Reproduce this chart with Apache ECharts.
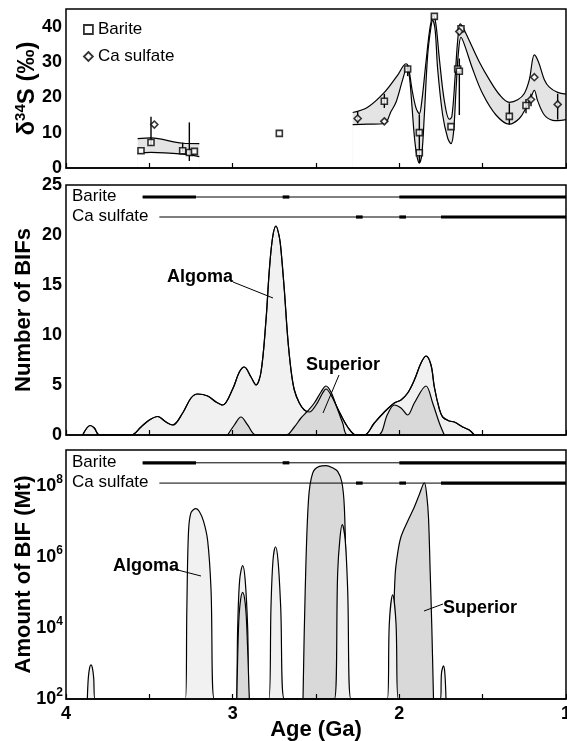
<!DOCTYPE html>
<html>
<head>
<meta charset="utf-8">
<script src="https://cdn.jsdelivr.net/npm/echarts@6/dist/echarts.min.js"></script>
<style>
html,body{margin:0;padding:0;background:#fff;}
#chart{width:567px;height:741px;}
</style>
</head>
<body>
<div id="chart"></div>
<script>
// --- top panel: d34S of sulfate (permil) ---
const bariteAge = [3.55, 3.49, 3.30, 3.26, 3.23, 2.72, 2.09, 1.95, 1.88, 1.88, 1.79, 1.69, 1.65, 1.64, 1.63, 1.34, 1.24];
const bariteD34S = [4.9, 7.2, 4.9, 4.4, 4.7, 9.8, 18.9, 28.0, 10.0, 4.3, 42.9, 11.7, 28.0, 27.4, 39.4, 14.6, 17.7];
const caAge = [3.47, 2.25, 2.09, 1.64, 1.21, 1.19, 1.05];
const caD34S = [12.3, 14.0, 13.2, 38.6, 19.4, 25.7, 18.0];
// [age, low, high]
const errBars = [[3.49,6.3,14.5],[3.30,4.5,7.2],[3.26,2.0,12.9],[2.25,12.6,16.0],[2.09,17.0,21.0],[1.95,26.0,29.0],
  [1.88,1.4,15.2],[1.64,15.0,31.0],[1.34,12.3,18.3],[1.24,15.5,19.5],[1.21,17.5,21.0],[1.05,13.7,21.0]];
// envelope (upper / lower bounds)
const envLeftUp = [[3.57,8.3],[3.49,8.5],[3.30,7.0],[3.20,6.9]];
const envLeftLo = [[3.57,4.2],[3.49,4.4],[3.30,3.9],[3.20,3.2]];
const envRightUp = [[2.28,15.7],[2.19,17.2],[2.09,21.4],[2.01,26.3],[1.96,29.5],[1.945,28.5],[1.925,22.5],[1.90,17],[1.88,15.4],
  [1.865,19],[1.84,30],[1.815,40],[1.795,43.2],[1.78,40.5],[1.76,31],[1.73,19],[1.70,13.8],[1.685,14.5],[1.665,26],[1.65,36],
  [1.635,40.8],[1.615,39.5],[1.58,36],[1.52,30],[1.46,25],[1.40,20.8],[1.34,18.6],[1.29,19.3],[1.25,21.1],[1.22,25],[1.19,32],
  [1.165,30],[1.13,25],[1.10,22.9],[1.05,21.4],[1.00,20.9]];
const envRightLo = [[2.28,12.3],[2.19,12.4],[2.09,12.6],[2.05,16],[2.02,18.6],[1.98,25],[1.955,28.3],[1.94,26],[1.925,18],
  [1.91,9],[1.895,3.5],[1.88,1.4],[1.865,4],[1.85,15],[1.83,32],[1.81,40],[1.80,41.8],[1.785,39],[1.77,28],[1.74,15],[1.71,8.5],
  [1.69,6.9],[1.675,10],[1.66,22],[1.645,33],[1.63,37],[1.61,35],[1.56,28],[1.50,21],[1.42,15],[1.34,12.4],[1.28,14],[1.24,17],
  [1.21,20],[1.19,22],[1.17,19],[1.13,15],[1.08,13.5],[1.05,13.4],[1.00,13.7]];

// --- middle panel: number of BIFs ---
const algomaNum = [[3.90,0],[3.875,0.7],[3.855,0.95],[3.83,0.7],[3.80,0],[3.61,0],[3.55,0.8],[3.50,1.5],[3.45,1.85],[3.40,1.3],
  [3.36,1.0],[3.30,2.2],[3.25,3.7],[3.21,4.1],[3.15,3.9],[3.10,3.3],[3.06,3.0],[3.00,4.6],[2.96,6.3],[2.93,6.8],[2.89,5.8],
  [2.86,5.0],[2.83,6.3],[2.80,11.5],[2.78,16.5],[2.76,19.8],[2.74,20.9],[2.72,19.8],[2.71,18.5],[2.69,14.5],[2.67,9.8],[2.65,6.5],
  [2.63,4.5],[2.60,3.2],[2.57,2.5],[2.54,2.3],[2.50,3.0],[2.46,4.2],[2.44,4.6],[2.41,4.0],[2.36,2.3],[2.31,0.8],[2.26,0],
  [2.21,0],[2.15,1.2],[2.09,2.3],[2.03,3.2],[1.99,3.5],[1.95,4.2],[1.91,5.5],[1.87,7.2],[1.84,7.9],[1.81,7.0],[1.79,4.8],
  [1.76,2.6],[1.74,1.8],[1.70,1.4],[1.67,1.3],[1.62,0.8],[1.58,0.5],[1.55,0]];
const superiorNum = [[3.03,0],[2.99,1.0],[2.95,1.8],[2.91,1.0],[2.86,0],[2.68,0],[2.63,0.8],[2.59,1.7],[2.55,2.4],[2.51,3.2],
  [2.47,4.3],[2.44,4.9],[2.41,4.3],[2.38,3.0],[2.34,1.2],[2.31,0],[2.13,0],[2.07,2.1],[2.03,3.0],[1.99,2.7],[1.95,2.0],
  [1.91,3.2],[1.84,4.9],[1.80,3.2],[1.76,1.2],[1.73,0]];

// --- bottom panel: amount of BIF, log10(Mt) ---
const algomaLogMt = [[3.872,2],[3.866,2.6],[3.858,2.88],[3.85,2.96],[3.842,2.88],[3.834,2.6],[3.826,2],
  [3.283,2],[3.275,4.5],[3.265,6.7],[3.25,7.24],[3.22,7.35],[3.20,7.27],[3.175,7.0],[3.15,6.45],[3.13,5.1],[3.11,2],
  [2.98,2],[2.97,4.0],[2.958,5.35],[2.94,5.75],[2.925,5.35],[2.91,4.0],[2.90,2],
  [2.783,2],[2.77,4.6],[2.758,5.9],[2.743,6.28],[2.728,5.9],[2.712,4.6],[2.69,2],
  [2.39,2],[2.37,5.55],[2.357,6.48],[2.343,6.9],[2.325,6.48],[2.31,5.07],[2.29,2],
  [2.072,2],[2.06,4.13],[2.04,4.93],[2.02,4.13],[2.006,2],
  [1.753,2],[1.747,2.73],[1.735,2.93],[1.727,2.73],[1.72,2]];
const superiorLogMt = [[2.578,2],[2.565,5.0],[2.545,7.6],[2.52,8.35],[2.48,8.54],[2.44,8.56],[2.40,8.5],[2.37,8.4],[2.345,8.1],
  [2.33,7.4],[2.32,5.55],[2.31,2],[2.04,2],[2.035,4.0],[2.025,5.5],[2.01,6.1],[1.99,6.56],[1.95,7.0],[1.91,7.4],[1.88,7.75],
  [1.85,8.08],[1.835,7.7],[1.825,7.1],[1.815,5.6],[1.805,4.0],[1.795,2]];
const superiorLogMtEarly = [[2.975,2],[2.965,4.0],[2.955,4.7],[2.94,5.0],[2.925,4.7],[2.915,4.0],[2.90,2]];

// sulfate occurrence ranges [from, to] (thick = abundant)
const bariteSpan = [[3.54, 1.0]];
const bariteThick = [[3.54, 3.22], [2.70, 2.66], [2.0, 1.0]];
const caSpan = [[3.44, 1.0]];
const caThick = [[2.26, 2.22], [2.0, 1.96], [1.75, 1.0]];

const FONT = 'Liberation Sans, Arial, sans-serif';
const lightFill = '#f1f1f1', darkFill = '#d9d9d9', bandFill = '#e4e4e4';

const chart = echarts.init(document.getElementById('chart'));

function xAx(i, labels) {
  return {
    type: 'value', gridIndex: i, min: 1, max: 4, interval: 0.5, inverse: true, z: 5,
    axisLine: {show: true, lineStyle: {color: '#000', width: 1.5}},
    axisTick: {show: true, inside: true, length: 5, lineStyle: {color: '#000', width: 1.2}},
    axisLabel: {show: labels, margin: 6, color: '#000', fontSize: 18, fontWeight: 'bold', fontFamily: FONT,
      formatter: v => Math.abs(v - Math.round(v)) < 1e-6 ? String(Math.round(v)) : ''},
    splitLine: {show: false},
    name: labels ? 'Age (Ga)' : '', nameLocation: 'middle', nameGap: 20, nameMoveOverlap: false,
    nameTextStyle: {color: '#000', fontSize: 22, fontWeight: 'bold', fontFamily: FONT}
  };
}
function yAx(i, o) {
  return Object.assign({
    type: 'value', gridIndex: i,
    axisLine: {show: false}, axisTick: {show: false}, splitLine: {show: false},
    axisLabel: {color: '#000', fontSize: 18, fontWeight: 'bold', fontFamily: FONT, margin: 4},
    nameLocation: 'middle', nameGap: 31, nameRotate: 90, nameMoveOverlap: false,
    nameTextStyle: {color: '#000', fontSize: 22, fontWeight: 'bold', fontFamily: FONT}
  }, o);
}
function area(name, data, xi, fill, z, lineW) {
  return {
    name: name, type: 'line', xAxisIndex: xi, yAxisIndex: xi, data: data, smooth: 0.35,
    symbol: 'none', z: z, silent: true,
    lineStyle: {color: '#000', width: lineW === undefined ? 1.2 : lineW},
    areaStyle: {color: fill, opacity: 1, origin: 'start'}
  };
}
function ranges(xi, spans, thick, level) {
  const rows = spans.map(s => [s[0], s[1], level, 1]).concat(thick.map(s => [s[0], s[1], level, 3.2]));
  return {
    type: 'custom', xAxisIndex: xi, yAxisIndex: xi, z: 6, silent: true, data: rows,
    renderItem: (params, api) => {
      const a = api.coord([api.value(0), api.value(2)]);
      const b = api.coord([api.value(1), api.value(2)]);
      return {type: 'line', shape: {x1: a[0], y1: a[1], x2: b[0], y2: b[1]},
        style: {stroke: '#000', lineWidth: api.value(3)}};
    }
  };
}

const txt = (x, y, s, bold, size) => ({type: 'text', left: x, top: y, z: 20,
  style: {text: s, fill: '#000', font: (bold ? 'bold ' : '') + (size || 17) + 'px ' + FONT}});
const lead = (x1, y1, x2, y2) => ({type: 'line', z: 20, shape: {x1, y1, x2, y2}, style: {stroke: '#000', lineWidth: 1}});

const gridBase = {left: 66, right: 1, show: true, borderColor: '#000', borderWidth: 1.5, z: 8,
  containLabel: false, outerBoundsMode: 'none'};

chart.setOption({
  animation: false,
  grid: [
    Object.assign({top: 9, height: 159}, gridBase),
    Object.assign({top: 185, height: 250}, gridBase),
    Object.assign({top: 450, height: 249}, gridBase)
  ],
  xAxis: [xAx(0, false), xAx(1, false), xAx(2, true)],
  yAxis: [
    yAx(0, {min: 0, max: 45, interval: 10, name: '{m|δ}{s|34}{m|S (‰)}', nameGap: 25,
      nameTextStyle: {rich: {
        m: {fontSize: 24, fontWeight: 'bold', fontFamily: FONT, color: '#000', lineHeight: 28},
        s: {fontSize: 15, fontWeight: 'bold', fontFamily: FONT, color: '#000', verticalAlign: 'top', lineHeight: 28}}}}),
    yAx(1, {min: 0, max: 25, interval: 5, name: 'Number of BIFs'}),
    yAx(2, {min: 2, max: 9, interval: 1, name: 'Amount of BIF (Mt)',
      axisLabel: {margin: 3, formatter: v => v % 2 === 0 ? '{b|10}{s|' + v + '}' : '',
        rich: {
          b: {fontSize: 18, fontWeight: 'bold', fontFamily: FONT, color: '#000', lineHeight: 24},
          s: {fontSize: 12, fontWeight: 'bold', fontFamily: FONT, color: '#000', verticalAlign: 'top', lineHeight: 24}}}})
  ],
  legend: {
    data: ['Barite', 'Ca sulfate'], orient: 'vertical', left: 78, top: 16, itemGap: 10,
    itemWidth: 9, itemHeight: 9, itemStyle: {borderColor: '#000', borderWidth: 1.8, color: '#fff'},
    textStyle: {color: '#000', fontSize: 17, fontFamily: FONT, lineHeight: 17}
  },
  series: [
    // top panel envelope: grey upper, white lower
    area('', envLeftUp, 0, bandFill, 2),
    area('', envLeftLo, 0, '#fff', 3),
    area('', envRightUp, 0, bandFill, 2),
    area('', envRightLo, 0, '#fff', 3),
    {
      type: 'custom', xAxisIndex: 0, yAxisIndex: 0, z: 7, silent: true, data: errBars,
      renderItem: (params, api) => {
        const a = api.coord([api.value(0), api.value(1)]);
        const b = api.coord([api.value(0), api.value(2)]);
        return {type: 'line', shape: {x1: a[0], y1: a[1], x2: b[0], y2: b[1]}, style: {stroke: '#000', lineWidth: 1.4}};
      }
    },
    {name: 'Barite', type: 'scatter', xAxisIndex: 0, yAxisIndex: 0, z: 9, symbol: 'rect', symbolSize: 6,
      itemStyle: {color: '#fff', borderColor: '#000', borderWidth: 1.6},
      data: bariteAge.map((a, i) => [a, bariteD34S[i]])},
    {name: 'Ca sulfate', type: 'scatter', xAxisIndex: 0, yAxisIndex: 0, z: 9, symbol: 'diamond', symbolSize: 7,
      itemStyle: {color: '#fff', borderColor: '#000', borderWidth: 1.6},
      data: caAge.map((a, i) => [a, caD34S[i]])},

    // middle panel
    area('', algomaNum, 1, lightFill, 2),
    area('', superiorNum, 1, darkFill, 3),
    {type: 'line', xAxisIndex: 1, yAxisIndex: 1, data: algomaNum, smooth: 0.35, symbol: 'none', z: 4, silent: true,
      lineStyle: {color: '#000', width: 1.2}},
    ranges(1, bariteSpan, bariteThick, 23.8),
    ranges(1, caSpan, caThick, 21.8),

    // bottom panel
    area('', superiorLogMt, 2, darkFill, 2),
    area('', algomaLogMt, 2, lightFill, 3),
    area('', superiorLogMtEarly, 2, darkFill, 4),
    ranges(2, bariteSpan, bariteThick, 8.64),
    ranges(2, caSpan, caThick, 8.07)
  ],
  graphic: [
    txt(72, 188, 'Barite'), txt(72, 208, 'Ca sulfate'),
    txt(72, 454, 'Barite'), txt(72, 474, 'Ca sulfate'),
    txt(167, 268, 'Algoma', true, 18), lead(233, 282, 273, 298),
    txt(306, 356, 'Superior', true, 18), lead(339, 375, 323, 413),
    txt(113, 557, 'Algoma', true, 18), lead(170, 568, 201, 576),
    txt(443, 599, 'Superior', true, 18), lead(443, 604, 424, 611)
  ]
});
</script>
</body>
</html>
